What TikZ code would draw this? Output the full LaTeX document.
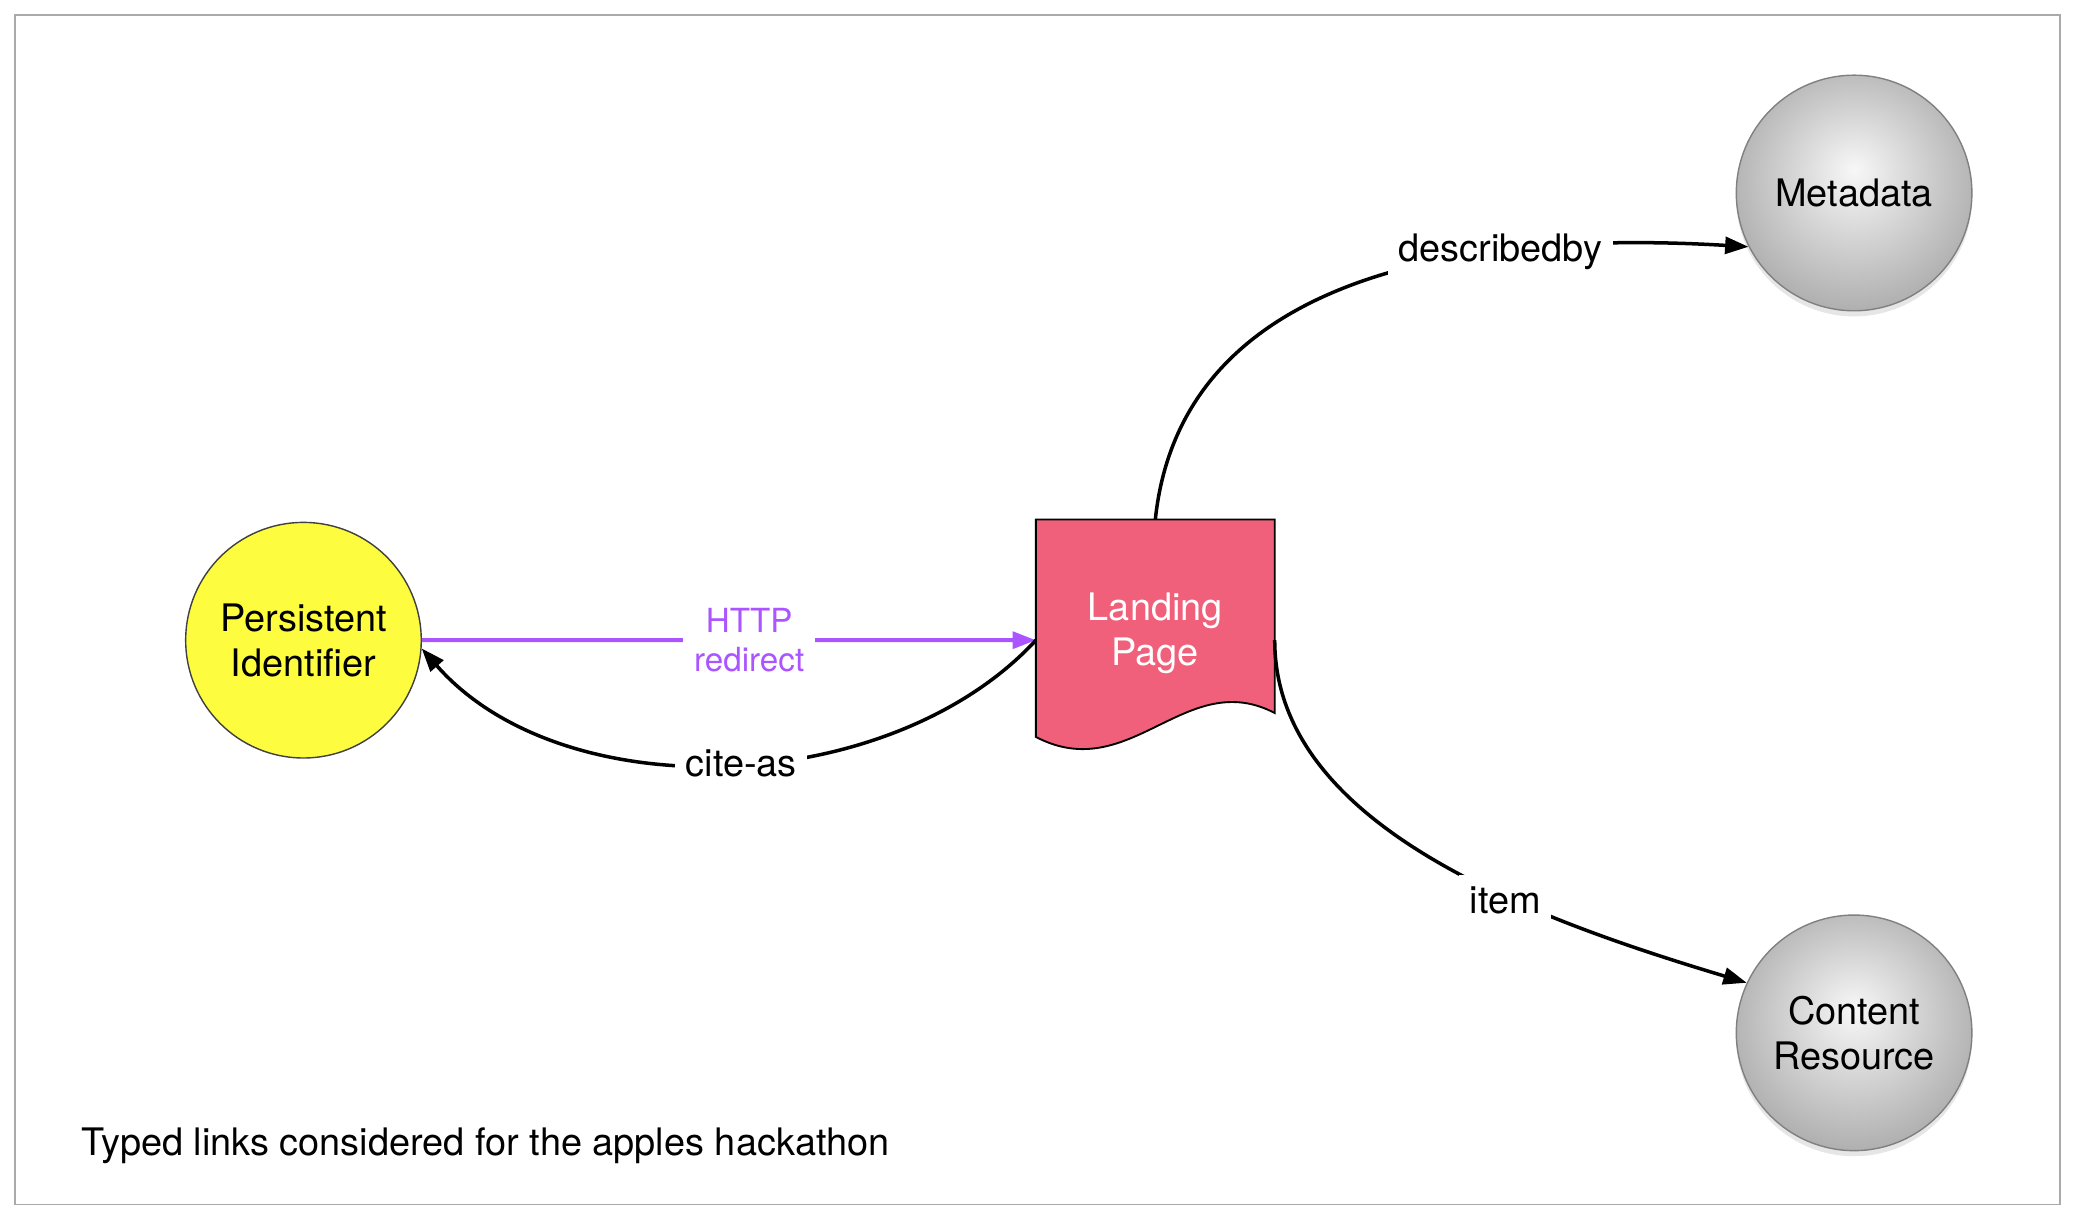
\documentclass[tikz,border=0pt]{standalone}
\usepackage{fontspec}
\setmainfont{TeX Gyre Heros}
\usetikzlibrary{arrows.meta,backgrounds,shadows}
\definecolor{pidyellow}{HTML}{FDFC3E}
\definecolor{pagered}{HTML}{F0607A}
\definecolor{redirpurple}{HTML}{AA55FF}
\definecolor{framegray}{HTML}{AAAAAA}
\pgfdeclareradialshading{resball}{\pgfpoint{0bp}{5bp}}{color(0bp)=(white!97!black); color(29bp)=(black!33); color(50bp)=(black!40)}

\tikzset{
	txt/.style={font=\fontsize{8.1}{9.7}\selectfont, align=center},
	pidnode/.style={txt, circle, draw=black!75, line width=0.3pt, fill=pidyellow, minimum size=1.77cm, inner sep=0pt},
	resnode/.style={txt, circle, draw=black!50, line width=0.3pt, shading=resball, minimum size=1.77cm, inner sep=0pt,
		drop shadow={opacity=0.2, shadow xshift=0pt, shadow yshift=-1.2pt}},
	pagenode/.style={txt, text=white, rectangle, minimum width=1.78cm, minimum height=1.70cm, inner sep=0pt},
	link/.style={line width=0.75pt, -{Triangle[length=5pt, width=3.6pt]}},
	redir/.style={line width=0.85pt, redirpurple, -{Triangle[length=5pt, width=3.6pt]}},
	lbl/.style={txt, fill=white, inner sep=2.3pt},
	redirlbl/.style={lbl, text=redirpurple, font=\fontsize{7.1}{8.2}\selectfont}
}

\begin{document}
\begin{tikzpicture}
	\useasboundingbox (0,0) rectangle (15.68,-9.166);
	\draw[framegray, line width=0.4pt] (0.11,-0.11) rectangle (15.48,-9.05);

	% nodes
	\node[pidnode] (pid) at (2.28,-4.81) {Persistent\\Identifier};
	\node[pagenode] (lp) at (8.68,-4.76) {Landing\\Page};
	\node[resnode] (md) at (13.93,-1.45) {Metadata};
	\node[resnode] (cr) at (13.93,-7.76) {Content\\Resource};

	% document outline behind the landing page text
	\begin{scope}[on background layer]
		\draw[fill=pagered, line width=0.4pt] ([yshift=0.08cm]lp.south west) -- (lp.north west) -- (lp.north east) -- ([yshift=0.26cm]lp.south east)
			.. controls +(-0.67,0.35) and +(0.71,-0.37) .. ([yshift=0.08cm]lp.south west) -- cycle;
	\end{scope}

	% links
	\draw[redir] (pid.east) -- node[pos=0.533, redirlbl] {HTTP\\redirect} ([yshift=-0.05cm]lp.west);
	\draw[link] ([yshift=-0.05cm]lp.west) .. controls +(-1.09,-1.18) and +(1.07,-1.22) .. (pid.-4) node[pos=0.481, lbl] {cite-as};
	\draw[link] (lp.north) .. controls +(0.2,1.9) and +(-2.0,0.12) .. (md.207) node[pos=0.69, lbl] {describedby};
	\draw[link] ([yshift=-0.05cm]lp.east) .. controls +(0,-1.39) and +(-1.63,0.49) .. (cr.155) node[pos=0.63, lbl, yshift=-0.03cm] {item};

	\node[txt, anchor=west] (caption) at (0.49,-8.61) {Typed links considered for the apples hackathon};
\end{tikzpicture}
\end{document}
